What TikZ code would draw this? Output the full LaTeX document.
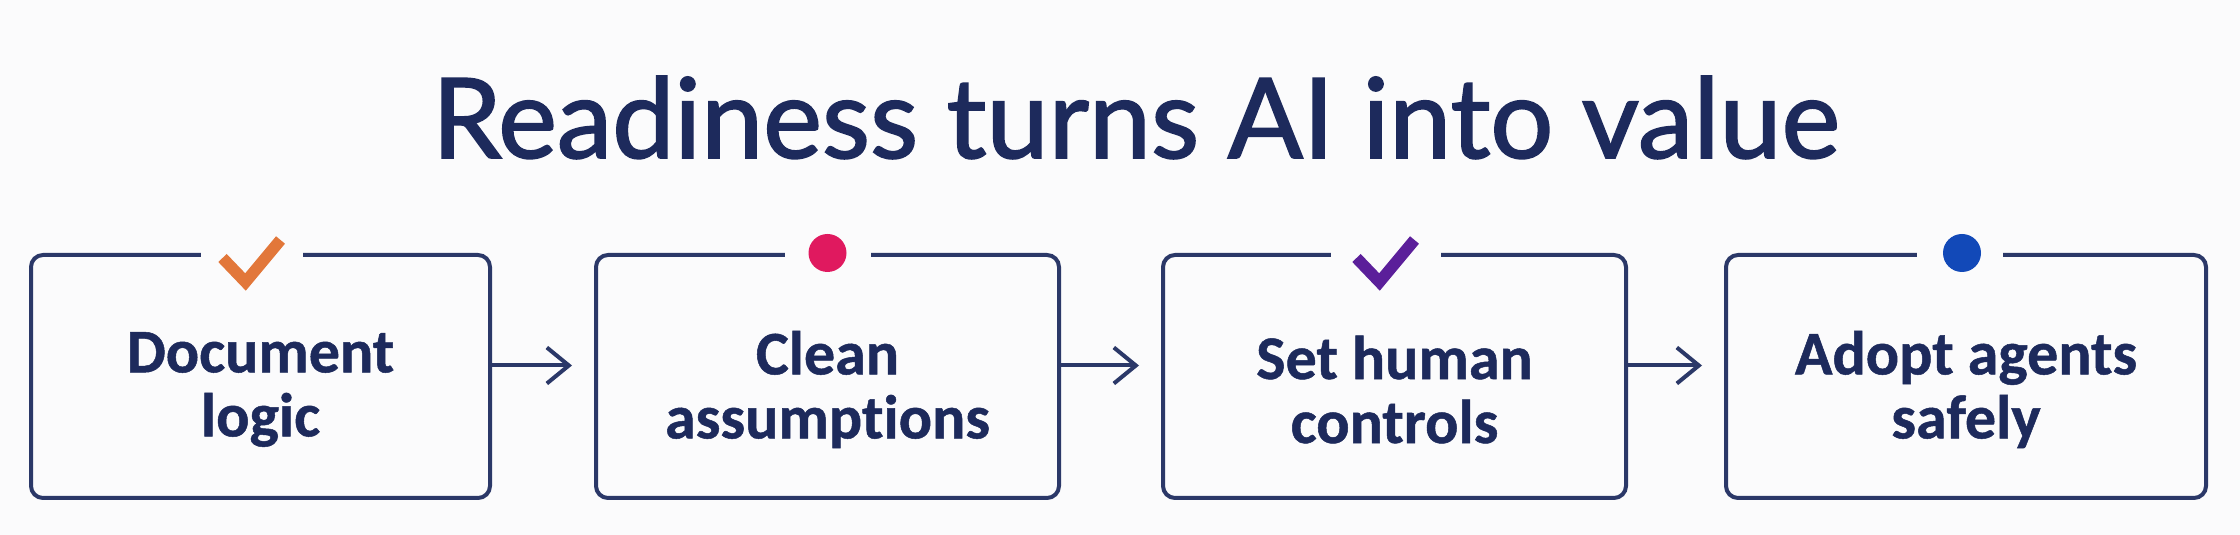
\documentclass[tikz,border=0pt]{standalone}
\usepackage{fontspec}
\setmainfont{Carlito}[Ligatures=NoCommon]
\newfontfamily\titlefont{Lato}[FakeBold=1.6]
\newfontfamily\boxfont{Carlito}[Ligatures=NoCommon, BoldFeatures={FakeBold=0.8}]
\usetikzlibrary{arrows.meta}
\definecolor{navy}{HTML}{1D2A5C}
\definecolor{boxline}{HTML}{2B3868}
\definecolor{bgc}{HTML}{FBFBFC}
\definecolor{corange}{HTML}{E2773A}
\definecolor{cpink}{HTML}{E0195F}
\definecolor{cpurple}{HTML}{5B1F9A}
\definecolor{cblue}{HTML}{1249B8}
\tikzset{
  stepbox/.style={draw=boxline, line width=2pt, rounded corners=6pt,
    minimum height=121.5pt, inner sep=0pt},
  steptext/.style={text=navy, inner sep=0pt, align=center,
    font=\boxfont\bfseries\fontsize{31}{32}\selectfont},
  gapcover/.style={fill=bgc, inner sep=0pt, minimum height=6pt},
  flow/.style={draw=boxline, line width=2pt,
    -{Straight Barb[length=11pt, width=18pt, line width=2pt]}},
  tick/.style={line width=5.8pt, line cap=butt, line join=miter},
  dotmark/.style={circle, inner sep=0pt, minimum size=19pt}
}
\begin{document}
\begin{tikzpicture}[x=0.5pt,y=0.5pt]
\fill[bgc] (0,0) rectangle (2240,535);
\useasboundingbox (0,0) rectangle (2240,535);
\node[anchor=base, text=navy, inner sep=0pt, font=\titlefont\fontsize{55.6}{60}\selectfont] (title) at (1136,377) {Readiness turns AI into value};
\node[stepbox, minimum width=229.5pt] (b1) at (260.5,158.5) {};
\node[stepbox, minimum width=231.5pt] (b2) at (827.5,158.5) {};
\node[stepbox, minimum width=231.5pt] (b3) at (1394.5,158.5) {};
\node[stepbox, minimum width=240pt] (b4) at (1966,158.5) {};
\node[steptext] (t1) at ([yshift=-6.5pt]b1.center) {Document\\logic};
\node[steptext] (t2) at ([yshift=-6.5pt]b2.center) {Clean\\assumptions};
\node[steptext] (t3) at ([yshift=-6.5pt]b3.center) {Set human\\controls};
\node[steptext] (t4) at ([yshift=-6.5pt]b4.center) {Adopt agents\\safely};
% gaps and marks
\node[gapcover, minimum width=51pt] (g1) at ([xshift=-4.5pt]b1.north) {};
\draw[tick, draw=corange] ([shift={(-38,-5)}]b1.north) -- ([shift={(-15,-29)}]b1.north) -- ([shift={(20,13)}]b1.north);
\node[gapcover, minimum width=43pt] (g2) at (b2.north) {};
\node[dotmark, fill=cpink] (d2) at (b2.north) {};
\node[gapcover, minimum width=55pt] (g3) at ([xshift=-4.5pt]b3.north) {};
\draw[tick, draw=cpurple] ([shift={(-38,-5)}]b3.north) -- ([shift={(-15,-29)}]b3.north) -- ([shift={(20,13)}]b3.north);
\node[gapcover, minimum width=43pt] (g4) at ([xshift=-3pt]b4.north) {};
\node[dotmark, fill=cblue] (d4) at ([xshift=-2pt]b4.north) {};
% arrows
\draw[flow, shorten >=11pt] ([yshift=5.5pt]b1.east) -- ([yshift=5.5pt]b2.west);
\draw[flow, shorten >=11pt] ([yshift=5.5pt]b2.east) -- ([yshift=5.5pt]b3.west);
\draw[flow, shorten >=11pt] ([yshift=5.5pt]b3.east) -- ([yshift=5.5pt]b4.west);
\end{tikzpicture}
\end{document}
